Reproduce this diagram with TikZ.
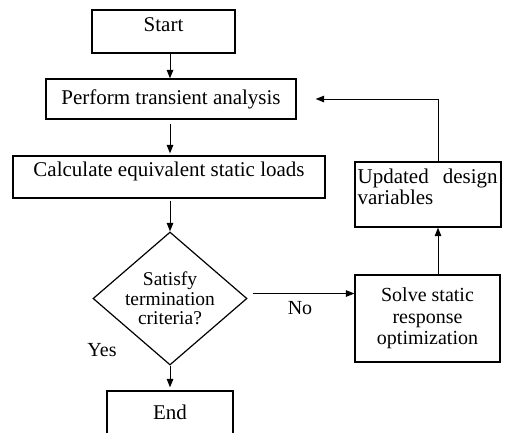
\documentclass[tikz,border=0pt]{standalone}
\usepackage{fontspec}
\setmainfont{Liberation Serif}
\usetikzlibrary{shapes.geometric,arrows.meta}
\begin{document}
\begin{tikzpicture}[x=1pt,y=-1pt,
  every node/.style={font=\fontsize{21}{21.5}\selectfont},
  box/.style={draw, line width=1.2pt, inner sep=0pt},
  decision/.style={draw, diamond, line width=1.2pt, inner sep=0pt},
  flow/.style={line width=1pt, -{Triangle[length=8.5pt,width=6.5pt]}},
  lbl/.style={inner sep=0pt},
  small/.style={font=\fontsize{20}{21.5}\selectfont}]
\clip (0,0) rectangle (505,432);
% columns used by the connectors
\coordinate (col) at (170,0);
\coordinate (loopx) at (438,0);

% main column
\node[box, minimum width=143pt, minimum height=43pt, text depth=14pt] (start) at (163.5,31.5) {Start};
\node[box, minimum width=250pt, minimum height=40pt] (perform) at (171,99) {Perform transient analysis};
\node[box, minimum width=312pt, minimum height=42pt, text depth=16pt] (calc) at (169,177) {Calculate equivalent static loads};
\node[decision, minimum width=154pt, minimum height=133pt] (check) at (170,298.5) {};
\node[lbl, align=center, font=\fontsize{19.5}{19.5}\selectfont] (checktext) at (check.center) {Satisfy\\termination\\criteria?};
\node[box, minimum width=126pt, minimum height=43pt] (end) at (170,412.5) {End};

% optimisation loop
\node[box, small, minimum width=145pt, minimum height=87pt, align=center] (solve) at (427.5,318.5) {Solve static\\response\\optimization};
\node[box, minimum width=146pt, minimum height=65pt] (upd) at (428,194.5) {};
\node[lbl, text width=140pt, align=left, anchor=north west] (updtext) at ([xshift=3pt,yshift=-7pt]upd.north west) {Updated\hfill design\\variables};

% labels
\node[lbl, small] (yes) at (102,350) {Yes};
\node[lbl, small] (no) at (300,308) {No};

% connectors
\draw[flow] (start.south -| col) -- (perform.north -| col);
\draw[flow, shorten <=4pt, shorten >=2pt] (perform.south -| col) -- (calc.north -| col);
\draw[flow, shorten <=2pt] (calc.south -| col) -- (check.north);
\draw[flow, shorten >=3pt] (check.south) -- (end.north);
\coordinate (nostart) at ([xshift=5pt,yshift=5pt]check.east);
\draw[flow] (nostart) -- (nostart -| solve.west);
\draw[flow] (solve.north -| loopx) -- (upd.south -| loopx);
\draw[flow] (upd.north -| loopx) |- ([xshift=19pt]perform.east);
\end{tikzpicture}
\end{document}
